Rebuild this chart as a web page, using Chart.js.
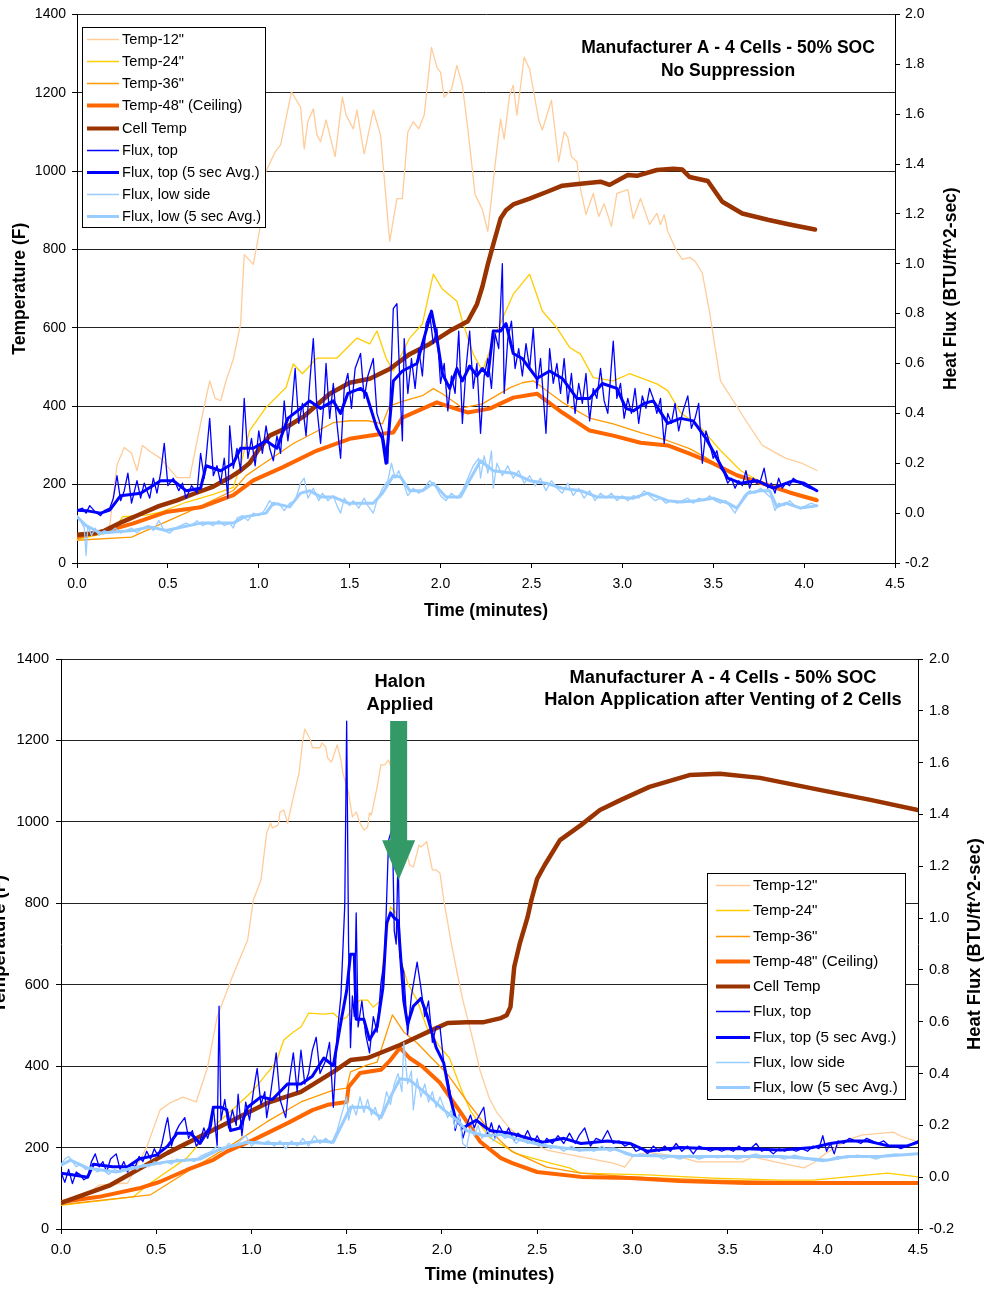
<!DOCTYPE html>
<html><head><meta charset="utf-8">
<script src="https://cdn.jsdelivr.net/npm/chart.js@4.4.1/dist/chart.umd.min.js"></script>
<style>
html,body{margin:0;padding:0;background:#fff;}
#wrap{position:relative;width:984px;height:1289px;overflow:hidden;background:#fff;}
canvas{position:absolute;left:0;}
#c1{top:0;} #c2{top:640px;}
</style></head><body>
<div id="wrap"><canvas id="c1" width="984" height="640"></canvas><canvas id="c2" width="984" height="649"></canvas></div>
<script>
// ---------- series names ----------
const seriesNames = ['Temp-12"','Temp-24"','Temp-36"','Temp-48" (Ceiling)','Cell Temp','Flux, top','Flux, top (5 sec Avg.)','Flux, low side','Flux, low (5 sec Avg.)'];
const xTicks = [0,0.5,1,1.5,2,2.5,3,3.5,4,4.5];
const titleTop = ['Manufacturer A - 4 Cells - 50% SOC','No Suppression'];
const titleBottom = ['Manufacturer A - 4 Cells - 50% SOC','Halon Application after Venting of 2 Cells'];
const halonLabel = ['Halon','Applied'];
const halonArrow = {t:1.773, top:1248, head:955, tip:857};

// ---------- TOP chart (No Suppression): [minutes, value] ----------
const nsTemp12 = [[0,75],[0.1,78],[0.15,85],[0.18,95],[0.22,250],[0.26,295],[0.30,280],[0.33,236],[0.36,300],[0.40,285],[0.46,267],[0.55,218],[0.62,218],[0.68,356],[0.73,465],[0.76,420],[0.79,414],[0.82,465],[0.86,520],[0.90,610],[0.92,787],[0.97,762],[1.01,863],[1.03,990],[1.09,1049],[1.12,1067],[1.18,1202],[1.23,1163],[1.25,1057],[1.27,1126],[1.30,1159],[1.32,1092],[1.34,1075],[1.37,1131],[1.42,1037],[1.46,1189],[1.48,1143],[1.52,1108],[1.54,1156],[1.57,1070],[1.58,1044],[1.63,1156],[1.67,1092],[1.72,821],[1.76,930],[1.79,930],[1.82,1100],[1.85,1126],[1.88,1108],[1.91,1143],[1.95,1316],[1.98,1265],[2.00,1252],[2.02,1189],[2.06,1209],[2.09,1270],[2.12,1219],[2.15,1108],[2.19,940],[2.23,902],[2.26,846],[2.30,1016],[2.33,1133],[2.35,1082],[2.38,1194],[2.40,1219],[2.42,1143],[2.46,1291],[2.49,1260],[2.54,1131],[2.56,1105],[2.61,1181],[2.65,1024],[2.68,1100],[2.70,1087],[2.72,1037],[2.75,1024],[2.77,955],[2.80,889],[2.84,943],[2.87,884],[2.90,917],[2.94,859],[2.97,943],[3.03,953],[3.06,879],[3.10,930],[3.15,864],[3.19,892],[3.21,864],[3.23,889],[3.25,846],[3.30,795],[3.33,775],[3.37,780],[3.40,770],[3.44,740],[3.48,640],[3.51,550],[3.54,465],[3.61,414],[3.68,363],[3.77,300],[3.90,267],[3.99,254],[4.07,236]];
const nsTemp24 = [[0,60],[0.2,80],[0.25,118],[0.38,122],[0.46,130],[0.6,155],[0.75,175],[0.86,193],[0.9,250],[0.93,305],[0.95,338],[1.04,397],[1.06,406],[1.15,448],[1.19,508],[1.24,483],[1.32,523],[1.43,523],[1.54,574],[1.61,559],[1.65,592],[1.70,523],[1.74,490],[1.83,574],[1.90,610],[1.96,737],[2.01,699],[2.09,668],[2.12,617],[2.18,533],[2.23,490],[2.31,592],[2.40,686],[2.49,737],[2.56,643],[2.64,600],[2.71,550],[2.77,533],[2.84,473],[2.95,465],[3.04,483],[3.19,457],[3.25,440],[3.32,384],[3.43,346],[3.54,287],[3.65,236],[3.75,210],[3.90,185],[4.07,165]];
const nsTemp36 = [[0,58],[0.3,66],[0.6,128],[0.86,185],[0.93,223],[1.0,245],[1.19,305],[1.41,358],[1.5,363],[1.6,363],[1.68,355],[1.72,401],[1.8,414],[1.9,427],[1.96,445],[2.01,432],[2.12,396],[2.23,406],[2.38,447],[2.45,460],[2.51,465],[2.67,410],[2.82,370],[2.95,355],[3.1,333],[3.25,312],[3.37,292],[3.46,269],[3.54,244],[3.65,218],[3.8,196],[3.95,175],[4.07,162]];
const nsTemp48 = [[0,66],[0.18,84],[0.31,101],[0.49,130],[0.68,142],[0.86,173],[0.97,211],[1.13,244],[1.32,287],[1.5,317],[1.68,330],[1.74,333],[1.79,371],[1.98,410],[2.01,405],[2.15,384],[2.27,394],[2.4,422],[2.53,432],[2.67,384],[2.82,338],[2.95,325],[3.1,307],[3.25,300],[3.37,279],[3.5,254],[3.63,224],[3.77,203],[3.92,180],[4.07,160]];
const nsCell = [[0,72],[0.1,76],[0.15,82],[0.25,105],[0.35,125],[0.45,145],[0.55,160],[0.65,178],[0.75,195],[0.84,218],[0.9,236],[0.95,255],[1.0,290],[1.06,325],[1.13,340],[1.25,375],[1.39,432],[1.5,460],[1.61,470],[1.72,495],[1.83,533],[1.94,559],[2.05,592],[2.15,617],[2.2,660],[2.23,705],[2.26,762],[2.29,813],[2.31,846],[2.33,879],[2.36,900],[2.4,915],[2.49,930],[2.59,948],[2.67,963],[2.77,968],[2.88,973],[2.93,965],[3.03,990],[3.08,988],[3.19,1003],[3.28,1006],[3.33,1004],[3.37,985],[3.47,975],[3.55,922],[3.66,892],[3.8,876],[3.92,864],[4.06,851]];
const nsFluxTop = [[0.00,0.012],[0.03,0.02],[0.05,0.0],[0.07,0.03],[0.10,0.005],[0.13,-0.01],[0.15,0.01],[0.18,0.02],[0.20,0.06],[0.22,0.15],[0.24,0.05],[0.26,0.09],[0.28,0.16],[0.30,0.04],[0.33,0.13],[0.35,0.06],[0.37,0.12],[0.40,0.06],[0.42,0.14],[0.44,0.08],[0.46,0.16],[0.48,0.28],[0.50,0.11],[0.53,0.14],[0.56,0.09],[0.58,0.12],[0.60,0.06],[0.63,0.11],[0.66,0.08],[0.68,0.24],[0.70,0.14],[0.73,0.38],[0.75,0.15],[0.77,0.19],[0.79,0.12],[0.81,0.22],[0.83,0.06],[0.84,0.35],[0.86,0.18],[0.88,0.26],[0.90,0.17],[0.92,0.46],[0.94,0.22],[0.96,0.30],[0.98,0.19],[1.00,0.33],[1.02,0.24],[1.04,0.35],[1.06,0.26],[1.08,0.21],[1.10,0.31],[1.12,0.24],[1.14,0.45],[1.16,0.29],[1.18,0.40],[1.20,0.58],[1.22,0.36],[1.24,0.44],[1.26,0.31],[1.28,0.52],[1.30,0.70],[1.32,0.42],[1.34,0.28],[1.36,0.46],[1.37,0.60],[1.39,0.38],[1.41,0.52],[1.43,0.36],[1.45,0.22],[1.47,0.50],[1.49,0.56],[1.51,0.42],[1.53,0.58],[1.56,0.64],[1.58,0.46],[1.60,0.55],[1.63,0.62],[1.65,0.40],[1.68,0.33],[1.71,0.20],[1.74,0.82],[1.76,0.84],[1.78,0.45],[1.79,0.29],[1.80,0.70],[1.82,0.48],[1.84,0.62],[1.86,0.50],[1.88,0.66],[1.90,0.55],[1.92,0.76],[1.94,0.80],[1.96,0.68],[1.98,0.74],[2.00,0.52],[2.02,0.60],[2.04,0.41],[2.06,0.55],[2.08,0.48],[2.10,0.73],[2.12,0.36],[2.14,0.58],[2.16,0.73],[2.18,0.50],[2.20,0.60],[2.22,0.32],[2.24,0.55],[2.26,0.62],[2.28,0.50],[2.30,0.72],[2.32,0.66],[2.34,1.00],[2.35,0.48],[2.37,0.70],[2.39,0.77],[2.41,0.58],[2.43,0.66],[2.45,0.55],[2.47,0.68],[2.49,0.58],[2.51,0.74],[2.53,0.50],[2.55,0.62],[2.58,0.32],[2.60,0.66],[2.62,0.52],[2.64,0.60],[2.66,0.48],[2.68,0.62],[2.70,0.44],[2.72,0.56],[2.74,0.40],[2.76,0.52],[2.78,0.44],[2.80,0.56],[2.82,0.37],[2.84,0.50],[2.86,0.46],[2.88,0.58],[2.90,0.45],[2.92,0.40],[2.95,0.69],[2.97,0.46],[2.99,0.52],[3.01,0.38],[3.03,0.46],[3.05,0.40],[3.07,0.50],[3.09,0.36],[3.11,0.47],[3.13,0.42],[3.15,0.50],[3.17,0.46],[3.19,0.40],[3.21,0.46],[3.23,0.28],[3.25,0.40],[3.27,0.36],[3.29,0.44],[3.31,0.33],[3.33,0.40],[3.36,0.47],[3.38,0.34],[3.40,0.38],[3.42,0.44],[3.44,0.20],[3.46,0.33],[3.48,0.28],[3.50,0.22],[3.52,0.25],[3.54,0.18],[3.56,0.16],[3.58,0.12],[3.60,0.14],[3.62,0.10],[3.64,0.13],[3.66,0.11],[3.68,0.17],[3.70,0.10],[3.72,0.14],[3.74,0.12],[3.76,0.13],[3.78,0.18],[3.80,0.10],[3.82,0.12],[3.84,0.08],[3.86,0.14],[3.88,0.10],[3.90,0.12],[3.92,0.11],[3.94,0.14],[3.96,0.13],[3.98,0.12],[4.00,0.11],[4.03,0.10],[4.07,0.09]];
const nsFluxTopAvg = [[0,0.012],[0.05,0.01],[0.13,0.0],[0.18,0.012],[0.24,0.07],[0.35,0.08],[0.46,0.13],[0.53,0.13],[0.6,0.09],[0.68,0.10],[0.71,0.19],[0.79,0.17],[0.86,0.20],[0.9,0.26],[0.97,0.26],[1.04,0.29],[1.1,0.26],[1.16,0.38],[1.23,0.42],[1.28,0.45],[1.34,0.42],[1.41,0.45],[1.45,0.40],[1.49,0.48],[1.56,0.50],[1.59,0.48],[1.65,0.34],[1.68,0.30],[1.70,0.20],[1.74,0.53],[1.79,0.57],[1.87,0.60],[1.92,0.73],[1.95,0.81],[1.98,0.70],[2.01,0.56],[2.05,0.50],[2.09,0.58],[2.12,0.53],[2.16,0.59],[2.2,0.55],[2.23,0.58],[2.26,0.55],[2.29,0.73],[2.33,0.73],[2.36,0.76],[2.4,0.64],[2.45,0.62],[2.49,0.58],[2.53,0.54],[2.6,0.57],[2.67,0.54],[2.75,0.46],[2.82,0.46],[2.89,0.52],[2.97,0.50],[3.02,0.42],[3.06,0.41],[3.12,0.44],[3.17,0.45],[3.25,0.36],[3.32,0.38],[3.39,0.37],[3.46,0.30],[3.52,0.22],[3.58,0.14],[3.65,0.12],[3.74,0.13],[3.83,0.10],[3.94,0.13],[4.0,0.12],[4.07,0.09]];
const nsFluxLow = [[0.00,-0.01],[0.02,-0.03],[0.04,-0.06],[0.05,-0.17],[0.06,-0.05],[0.08,-0.09],[0.10,-0.06],[0.12,-0.09],[0.15,-0.07],[0.18,-0.08],[0.21,-0.06],[0.24,-0.08],[0.27,-0.07],[0.30,-0.06],[0.33,-0.08],[0.36,-0.06],[0.39,-0.05],[0.42,-0.07],[0.45,-0.03],[0.48,-0.07],[0.51,-0.08],[0.54,-0.06],[0.57,-0.05],[0.60,-0.04],[0.63,-0.05],[0.66,-0.03],[0.69,-0.05],[0.72,-0.04],[0.75,-0.05],[0.78,-0.03],[0.81,-0.05],[0.84,-0.04],[0.86,-0.06],[0.88,-0.02],[0.91,-0.01],[0.94,-0.03],[0.97,0.0],[1.00,-0.01],[1.03,0.01],[1.06,0.05],[1.08,0.03],[1.11,0.04],[1.14,0.01],[1.17,0.04],[1.20,0.05],[1.23,0.12],[1.25,0.14],[1.27,0.06],[1.30,0.10],[1.33,0.05],[1.35,0.08],[1.38,0.05],[1.41,0.07],[1.43,0.03],[1.45,0.0],[1.47,0.06],[1.50,0.03],[1.52,0.05],[1.55,0.02],[1.58,0.06],[1.60,0.03],[1.63,0.0],[1.65,0.05],[1.68,0.10],[1.71,0.13],[1.73,0.20],[1.75,0.14],[1.77,0.17],[1.80,0.11],[1.82,0.07],[1.85,0.10],[1.88,0.08],[1.91,0.10],[1.94,0.13],[1.97,0.11],[2.00,0.07],[2.03,0.05],[2.06,0.08],[2.09,0.06],[2.12,0.09],[2.15,0.14],[2.18,0.19],[2.21,0.22],[2.22,0.14],[2.24,0.23],[2.26,0.16],[2.28,0.25],[2.29,0.10],[2.31,0.20],[2.34,0.15],[2.37,0.19],[2.40,0.14],[2.43,0.17],[2.46,0.12],[2.49,0.15],[2.52,0.11],[2.55,0.14],[2.58,0.09],[2.61,0.13],[2.64,0.10],[2.67,0.08],[2.70,0.12],[2.73,0.07],[2.76,0.10],[2.79,0.06],[2.82,0.09],[2.85,0.05],[2.88,0.08],[2.91,0.06],[2.94,0.08],[2.97,0.05],[3.00,0.07],[3.03,0.05],[3.06,0.07],[3.09,0.06],[3.12,0.09],[3.15,0.07],[3.18,0.05],[3.21,0.06],[3.24,0.04],[3.27,0.05],[3.30,0.04],[3.33,0.05],[3.36,0.06],[3.39,0.04],[3.42,0.06],[3.45,0.05],[3.48,0.07],[3.51,0.05],[3.54,0.04],[3.57,0.05],[3.60,0.02],[3.62,0.0],[3.64,0.03],[3.67,0.07],[3.70,0.09],[3.73,0.08],[3.76,0.10],[3.79,0.08],[3.82,0.06],[3.84,0.01],[3.86,0.04],[3.89,0.03],[3.92,0.05],[3.95,0.03],[3.98,0.02],[4.01,0.03],[4.04,0.04],[4.07,0.03]];
const nsFluxLowAvg = [[0,-0.015],[0.05,-0.05],[0.13,-0.08],[0.31,-0.07],[0.4,-0.055],[0.49,-0.07],[0.68,-0.04],[0.86,-0.04],[0.92,-0.015],[1.04,0.0],[1.08,0.04],[1.17,0.025],[1.23,0.08],[1.28,0.09],[1.34,0.065],[1.41,0.065],[1.49,0.04],[1.56,0.04],[1.63,0.04],[1.68,0.08],[1.74,0.15],[1.78,0.145],[1.83,0.09],[1.9,0.09],[1.96,0.12],[2.03,0.065],[2.11,0.065],[2.15,0.12],[2.22,0.21],[2.29,0.17],[2.4,0.16],[2.49,0.13],[2.58,0.12],[2.67,0.10],[2.77,0.09],[2.86,0.065],[2.95,0.065],[3.06,0.06],[3.14,0.08],[3.25,0.05],[3.32,0.045],[3.41,0.05],[3.5,0.06],[3.58,0.04],[3.63,0.02],[3.69,0.08],[3.76,0.09],[3.81,0.09],[3.85,0.025],[3.9,0.04],[3.98,0.02],[4.07,0.03]];

// ---------- BOTTOM chart (Halon) ----------
const hlTemp12 = [[0,62],[0.15,90],[0.2,108],[0.35,113],[0.45,201],[0.52,292],[0.57,309],[0.64,324],[0.71,312],[0.77,398],[0.82,521],[0.90,620],[0.98,710],[1.01,808],[1.05,857],[1.08,973],[1.10,997],[1.11,985],[1.14,992],[1.15,1024],[1.17,1029],[1.19,997],[1.22,1061],[1.25,1120],[1.27,1201],[1.28,1228],[1.31,1201],[1.32,1182],[1.36,1182],[1.37,1194],[1.39,1184],[1.40,1157],[1.42,1147],[1.43,1160],[1.45,1189],[1.47,1152],[1.48,1120],[1.51,1071],[1.53,1012],[1.55,1024],[1.57,997],[1.59,980],[1.61,987],[1.62,1022],[1.63,1017],[1.66,1086],[1.68,1140],[1.70,1140],[1.72,1152],[1.76,1100],[1.80,960],[1.83,894],[1.85,889],[1.88,943],[1.89,938],[1.92,951],[1.95,882],[1.97,882],[1.99,874],[2.01,808],[2.05,700],[2.08,630],[2.11,562],[2.16,470],[2.20,390],[2.25,320],[2.29,285],[2.35,250],[2.41,226],[2.55,194],[2.73,177],[2.90,162],[2.96,152],[3.00,177],[3.08,189],[3.25,177],[3.34,165],[3.42,165],[3.58,165],[3.63,177],[3.78,162],[3.90,150],[3.95,162],[4.02,187],[4.13,219],[4.21,231],[4.37,238],[4.42,226],[4.50,214]];
const hlTemp24 = [[0,58],[0.38,79],[0.47,113],[0.66,174],[0.82,260],[0.91,297],[1.01,341],[1.13,410],[1.17,464],[1.22,484],[1.26,496],[1.30,530],[1.38,528],[1.43,530],[1.47,513],[1.50,520],[1.54,550],[1.57,562],[1.61,562],[1.64,545],[1.68,562],[1.69,653],[1.73,791],[1.76,776],[1.78,668],[1.82,604],[1.87,562],[1.92,496],[1.99,447],[2.04,420],[2.10,345],[2.15,290],[2.25,225],[2.39,185],[2.57,162],[2.67,150],[2.73,137],[3.08,133],[3.42,125],[3.78,120],[3.95,120],[4.13,128],[4.34,137],[4.50,128]];
const hlTemp36 = [[0,60],[0.47,84],[0.66,140],[0.91,211],[1.08,263],[1.26,312],[1.43,341],[1.50,346],[1.52,386],[1.61,403],[1.66,410],[1.74,526],[1.80,484],[1.87,457],[1.94,423],[2.03,380],[2.13,315],[2.22,260],[2.31,215],[2.37,190],[2.55,152],[2.73,137],[2.99,128],[3.42,120],[3.95,115],[4.50,115]];
const hlTemp48 = [[0,66],[0.2,79],[0.41,100],[0.52,116],[0.66,145],[0.80,170],[0.87,190],[1.01,219],[1.19,260],[1.32,292],[1.40,305],[1.50,312],[1.51,349],[1.57,383],[1.68,391],[1.73,415],[1.78,445],[1.83,420],[1.90,398],[1.99,359],[2.10,285],[2.20,215],[2.31,174],[2.37,162],[2.50,140],[2.73,128],[2.99,125],[3.25,118],[3.60,113],[3.95,113],[4.30,113],[4.50,113]];
const hlCell = [[0,64],[0.26,108],[0.56,187],[0.82,248],[1.08,309],[1.26,337],[1.43,386],[1.52,415],[1.61,420],[1.78,452],[1.95,489],[2.03,506],[2.13,508],[2.22,508],[2.31,518],[2.34,525],[2.36,545],[2.38,644],[2.41,703],[2.45,766],[2.47,808],[2.50,860],[2.54,894],[2.62,955],[2.73,992],[2.83,1029],[2.94,1054],[3.09,1086],[3.30,1115],[3.46,1118],[3.67,1108],[3.99,1078],[4.25,1054],[4.50,1029]];
const hlFluxTop = [[0.00,0.02],[0.02,-0.02],[0.04,0.03],[0.06,-0.025],[0.08,0.02],[0.10,0.01],[0.12,-0.01],[0.14,0.0],[0.16,0.06],[0.18,0.09],[0.20,0.04],[0.22,0.06],[0.24,0.02],[0.26,0.07],[0.29,0.09],[0.31,0.03],[0.33,0.06],[0.35,0.02],[0.37,0.05],[0.39,0.04],[0.41,0.08],[0.43,0.06],[0.45,0.10],[0.47,0.07],[0.49,0.11],[0.51,0.08],[0.53,0.13],[0.55,0.20],[0.56,0.23],[0.58,0.12],[0.60,0.17],[0.62,0.20],[0.65,0.23],[0.67,0.15],[0.69,0.18],[0.71,0.12],[0.73,0.14],[0.75,0.19],[0.77,0.15],[0.79,0.20],[0.80,0.27],[0.82,0.12],[0.83,0.66],[0.84,0.22],[0.86,0.30],[0.88,0.19],[0.90,0.26],[0.92,0.20],[0.93,0.32],[0.95,0.16],[0.97,0.29],[0.99,0.22],[1.01,0.33],[1.03,0.42],[1.05,0.28],[1.07,0.33],[1.08,0.23],[1.10,0.32],[1.13,0.48],[1.15,0.30],[1.18,0.23],[1.20,0.38],[1.22,0.48],[1.24,0.33],[1.26,0.49],[1.28,0.36],[1.30,0.40],[1.32,0.49],[1.34,0.54],[1.36,0.40],[1.39,0.45],[1.41,0.52],[1.43,0.27],[1.45,0.55],[1.47,0.70],[1.49,1.05],[1.50,1.76],[1.51,0.90],[1.52,0.50],[1.53,0.70],[1.54,0.62],[1.55,1.02],[1.56,0.58],[1.58,0.68],[1.60,0.55],[1.62,0.48],[1.64,0.62],[1.66,0.56],[1.68,0.75],[1.70,0.85],[1.72,1.30],[1.74,1.35],[1.75,0.95],[1.76,0.90],[1.77,1.25],[1.78,0.85],[1.80,0.79],[1.82,0.55],[1.84,0.70],[1.87,0.83],[1.89,0.73],[1.91,0.62],[1.93,0.68],[1.95,0.52],[1.97,0.58],[1.99,0.58],[2.01,0.44],[2.03,0.38],[2.05,0.30],[2.07,0.18],[2.09,0.24],[2.11,0.15],[2.13,0.20],[2.15,0.24],[2.17,0.19],[2.19,0.23],[2.22,0.27],[2.24,0.16],[2.26,0.21],[2.28,0.15],[2.30,0.20],[2.33,0.16],[2.35,0.19],[2.38,0.14],[2.40,0.17],[2.43,0.15],[2.45,0.18],[2.48,0.13],[2.50,0.16],[2.53,0.12],[2.55,0.15],[2.58,0.13],[2.61,0.16],[2.64,0.13],[2.67,0.17],[2.70,0.13],[2.72,0.16],[2.75,0.19],[2.78,0.12],[2.81,0.15],[2.84,0.14],[2.87,0.18],[2.90,0.13],[2.93,0.14],[2.96,0.12],[2.99,0.13],[3.02,0.10],[3.05,0.11],[3.08,0.09],[3.11,0.12],[3.14,0.10],[3.17,0.12],[3.20,0.10],[3.23,0.13],[3.26,0.10],[3.29,0.12],[3.32,0.09],[3.35,0.12],[3.38,0.11],[3.41,0.10],[3.44,0.11],[3.47,0.10],[3.50,0.11],[3.53,0.10],[3.56,0.12],[3.59,0.10],[3.62,0.11],[3.65,0.13],[3.68,0.10],[3.71,0.11],[3.74,0.09],[3.77,0.11],[3.80,0.10],[3.83,0.11],[3.86,0.10],[3.89,0.11],[3.92,0.10],[3.95,0.12],[3.98,0.11],[4.00,0.16],[4.02,0.10],[4.04,0.13],[4.06,0.09],[4.08,0.14],[4.11,0.13],[4.14,0.15],[4.17,0.14],[4.20,0.13],[4.23,0.15],[4.26,0.14],[4.29,0.13],[4.32,0.14],[4.35,0.12],[4.38,0.12],[4.41,0.11],[4.44,0.12],[4.47,0.13],[4.50,0.14]];
const hlFluxTopAvg = [[0,0.015],[0.05,0.01],[0.14,0.0],[0.17,0.05],[0.27,0.04],[0.35,0.04],[0.41,0.07],[0.50,0.085],[0.56,0.12],[0.61,0.17],[0.68,0.17],[0.73,0.13],[0.78,0.19],[0.80,0.27],[0.84,0.27],[0.87,0.26],[0.89,0.18],[0.94,0.19],[0.98,0.27],[1.05,0.31],[1.11,0.30],[1.19,0.36],[1.26,0.36],[1.32,0.39],[1.38,0.46],[1.43,0.43],[1.47,0.60],[1.50,0.72],[1.52,0.86],[1.54,0.86],[1.55,0.61],[1.59,0.61],[1.62,0.53],[1.66,0.58],[1.69,0.73],[1.71,0.98],[1.73,1.02],[1.75,1.00],[1.77,0.99],[1.80,0.68],[1.82,0.59],[1.85,0.66],[1.89,0.69],[1.92,0.63],[1.97,0.50],[2.01,0.44],[2.04,0.32],[2.07,0.23],[2.11,0.19],[2.18,0.22],[2.25,0.18],[2.36,0.17],[2.43,0.155],[2.53,0.135],[2.64,0.15],[2.73,0.13],[2.87,0.14],[2.99,0.13],[3.08,0.10],[3.25,0.115],[3.42,0.11],[3.60,0.11],[3.78,0.105],[3.95,0.115],[4.04,0.13],[4.13,0.14],[4.23,0.14],[4.35,0.12],[4.44,0.12],[4.50,0.135]];
const hlFluxLow = [[0.00,0.05],[0.02,0.07],[0.04,0.08],[0.06,0.06],[0.08,0.04],[0.10,0.05],[0.13,0.03],[0.16,0.04],[0.19,0.02],[0.22,0.03],[0.25,0.01],[0.28,0.03],[0.31,0.02],[0.34,0.03],[0.37,0.04],[0.40,0.03],[0.43,0.05],[0.46,0.04],[0.49,0.06],[0.52,0.05],[0.55,0.06],[0.58,0.05],[0.61,0.07],[0.64,0.06],[0.67,0.07],[0.70,0.06],[0.73,0.08],[0.76,0.09],[0.79,0.10],[0.82,0.12],[0.85,0.10],[0.88,0.13],[0.91,0.12],[0.94,0.14],[0.97,0.16],[1.00,0.12],[1.03,0.14],[1.06,0.13],[1.09,0.14],[1.12,0.12],[1.15,0.14],[1.18,0.11],[1.21,0.14],[1.24,0.12],[1.27,0.15],[1.30,0.12],[1.33,0.16],[1.36,0.13],[1.39,0.15],[1.42,0.13],[1.45,0.18],[1.48,0.26],[1.50,0.31],[1.51,0.22],[1.53,0.28],[1.55,0.24],[1.57,0.31],[1.59,0.25],[1.61,0.30],[1.63,0.24],[1.65,0.27],[1.67,0.22],[1.69,0.26],[1.71,0.33],[1.73,0.28],[1.75,0.36],[1.77,0.40],[1.79,0.33],[1.80,0.52],[1.82,0.36],[1.84,0.41],[1.85,0.26],[1.87,0.38],[1.89,0.31],[1.91,0.36],[1.93,0.29],[1.95,0.33],[1.97,0.27],[1.99,0.31],[2.01,0.27],[2.03,0.23],[2.05,0.26],[2.07,0.19],[2.09,0.24],[2.11,0.13],[2.13,0.115],[2.15,0.19],[2.17,0.16],[2.19,0.20],[2.21,0.15],[2.24,0.18],[2.27,0.14],[2.30,0.17],[2.33,0.15],[2.36,0.16],[2.39,0.13],[2.42,0.15],[2.45,0.13],[2.48,0.14],[2.51,0.12],[2.54,0.13],[2.57,0.11],[2.60,0.12],[2.64,0.10],[2.68,0.12],[2.72,0.10],[2.76,0.11],[2.80,0.10],[2.84,0.12],[2.88,0.10],[2.92,0.11],[2.96,0.09],[3.00,0.08],[3.04,0.09],[3.08,0.08],[3.12,0.09],[3.16,0.07],[3.20,0.08],[3.25,0.07],[3.30,0.085],[3.35,0.07],[3.40,0.08],[3.45,0.075],[3.50,0.085],[3.55,0.07],[3.60,0.08],[3.65,0.09],[3.70,0.075],[3.75,0.08],[3.80,0.07],[3.85,0.085],[3.90,0.075],[3.95,0.065],[4.00,0.06],[4.04,0.07],[4.08,0.08],[4.13,0.075],[4.18,0.085],[4.23,0.08],[4.28,0.07],[4.33,0.085],[4.38,0.09],[4.43,0.085],[4.50,0.09]];
const hlFluxLowAvg = [[0,0.046],[0.05,0.066],[0.14,0.035],[0.29,0.02],[0.41,0.04],[0.56,0.06],[0.73,0.07],[0.84,0.11],[0.98,0.135],[1.08,0.13],[1.26,0.13],[1.36,0.14],[1.43,0.135],[1.48,0.21],[1.52,0.27],[1.61,0.27],[1.68,0.23],[1.73,0.31],[1.78,0.38],[1.83,0.375],[1.89,0.34],[1.95,0.30],[2.01,0.26],[2.08,0.22],[2.13,0.18],[2.22,0.16],[2.31,0.165],[2.43,0.14],[2.55,0.12],[2.73,0.105],[2.90,0.11],[3.0,0.085],[3.25,0.08],[3.6,0.08],[3.78,0.08],[3.95,0.07],[4.02,0.065],[4.13,0.08],[4.30,0.08],[4.50,0.09]];

// ---------- styling ----------
const FONT = "'Liberation Sans', Arial, Helvetica, sans-serif";
const COLORS = ['#FFCC99','#FFCC00','#FF9900','#FF6600','#993300','#0000FF','#0000FF','#99CCFF','#99CCFF'];
const WIDTHS = [1.3,1.3,1.3,4,4.5,1.3,3,1.3,3];
const LEG_W = [1.5,1.5,1.5,4,4,1.5,3,1.5,3];
const RIGHT_TITLE = 'Heat Flux (BTU/ft^2-sec)';
Chart.defaults.font.family = FONT;
Chart.defaults.color = '#000';

function overlay(L) {
  return {
    id: 'overlay' + L.id,
    afterDraw(chart) {
      const ctx = chart.ctx, ca = chart.chartArea;
      ctx.save();
      if (L.arrow) {
        const xs = chart.scales.x, ys = chart.scales.yT;
        const cx = xs.getPixelForValue(L.arrow.t);
        const yTop = ys.getPixelForValue(L.arrow.top), yHead = ys.getPixelForValue(L.arrow.head), yTip = ys.getPixelForValue(L.arrow.tip);
        ctx.fillStyle = '#339966';
        ctx.beginPath();
        ctx.moveTo(cx - 8.5, yTop); ctx.lineTo(cx + 8.5, yTop); ctx.lineTo(cx + 8.5, yHead);
        ctx.lineTo(cx + 16.5, yHead); ctx.lineTo(cx, yTip); ctx.lineTo(cx - 16.5, yHead);
        ctx.lineTo(cx - 8.5, yHead); ctx.closePath(); ctx.fill();
      }
      // legend box
      const G = L.legend;
      ctx.fillStyle = '#fff'; ctx.fillRect(G.x, G.y, G.w, G.h);
      ctx.strokeStyle = '#000'; ctx.lineWidth = 1; ctx.strokeRect(G.x + 0.5, G.y + 0.5, G.w, G.h);
      ctx.font = L.legFs + 'px ' + FONT; ctx.textBaseline = 'middle'; ctx.textAlign = 'left';
      seriesNames.forEach((n, i) => {
        const y = G.row0 + i * G.rowH;
        ctx.strokeStyle = COLORS[i]; ctx.lineWidth = LEG_W[i]; ctx.lineCap = 'butt';
        ctx.beginPath(); ctx.moveTo(G.s0, Math.round(y) + 0.5); ctx.lineTo(G.s1, Math.round(y) + 0.5); ctx.stroke();
        ctx.fillStyle = '#000'; ctx.fillText(n, G.tx, y + 1);
      });
      // annotations
      ctx.fillStyle = '#000'; ctx.font = 'bold ' + L.boldFs + 'px ' + FONT; ctx.textAlign = 'center'; ctx.textBaseline = 'middle';
      L.texts.forEach(t => ctx.fillText(t.s, t.x, t.y));
      // right axis title (reads bottom to top)
      ctx.translate(L.rTitleX, (ca.top + ca.bottom) / 2); ctx.rotate(-Math.PI / 2);
      ctx.fillText(RIGHT_TITLE, 0, 0);
      ctx.restore();
    }
  };
}

function buildChart(id, series, L) {
  const datasets = series.map((pts, i) => ({
    label: seriesNames[i],
    data: pts.map(p => ({x: p[0], y: p[1]})),
    borderColor: COLORS[i], backgroundColor: COLORS[i],
    borderWidth: WIDTHS[i],
    yAxisID: i < 5 ? 'yT' : 'yF',
    pointRadius: 0, pointHoverRadius: 0, tension: 0, fill: false,
    borderJoinStyle: 'round', borderCapStyle: 'round',
    order: 9 - i
  }));
  return new Chart(document.getElementById(id), {
    type: 'line',
    data: { datasets },
    options: {
      responsive: false, animation: false, devicePixelRatio: 1, events: [],
      layout: { padding: { top: L.top, left: 0, right: 0, bottom: 0 } },
      plugins: { legend: { display: false }, tooltip: { enabled: false } },
      scales: {
        x: {
          type: 'linear', position: 'bottom', min: 0, max: 4.5,
          afterBuildTicks: s => { s.ticks = xTicks.map(v => ({value: v})); },
          ticks: { autoSkip: false, maxRotation: 0, padding: L.xTickPad, font: { size: L.tickFs }, color: '#000', callback: v => Number(v).toFixed(1) },
          grid: { drawOnChartArea: false, drawTicks: true, tickLength: 5, tickColor: '#000', tickWidth: 1 },
          border: { display: true, color: '#000', width: 1 },
          title: { display: true, text: 'Time (minutes)', font: { size: L.boldFs, weight: 'bold' }, color: '#000', padding: { top: 0, bottom: L.xTitlePad } },
          afterFit: s => { s.height = L.xH; }
        },
        yT: {
          type: 'linear', position: 'left', min: 0, max: 1400,
          ticks: { stepSize: 200, padding: L.lTickPad, font: { size: L.tickFs }, color: '#000', callback: v => String(Math.round(v)) },
          grid: { color: '#222', lineWidth: 1, drawTicks: true, tickLength: 5, tickColor: '#000' },
          border: { display: true, color: '#000', width: 1 },
          title: { display: true, text: 'Temperature (F)', font: { size: L.boldFs, weight: 'bold' }, color: '#000', padding: { top: L.lTitlePad, bottom: 0 } },
          afterFit: s => { s.width = L.lW; }
        },
        yF: {
          type: 'linear', position: 'right', min: -0.2, max: 2.0,
          ticks: { stepSize: 0.2, padding: L.rTickPad, font: { size: L.tickFs }, color: '#000', callback: v => Number(v).toFixed(1) },
          grid: { drawOnChartArea: false, drawTicks: true, tickLength: 5, tickColor: '#000' },
          border: { display: true, color: '#000', width: 1 },
          afterFit: s => { s.width = L.rW; }
        }
      }
    },
    plugins: [overlay(L)]
  });
}

buildChart('c1',
  [nsTemp12, nsTemp24, nsTemp36, nsTemp48, nsCell, nsFluxTop, nsFluxTopAvg, nsFluxLow, nsFluxLowAvg],
  { id: 1, top: 12, lW: 77, rW: 89, xH: 77, lTitlePad: 9.5, xTitlePad: 18.5, lTickPad: 6, rTickPad: 5, xTickPad: 8,
    tickFs: 14, legFs: 14.6, boldFs: 17.5, rTitleX: 951,
    legend: { x: 82, y: 27, w: 183, h: 200, row0: 39, rowH: 22.15, s0: 87, s1: 119, tx: 122 },
    texts: [ { s: titleTop[0], x: 728, y: 48 }, { s: titleTop[1], x: 728, y: 71 } ] });

buildChart('c2',
  [hlTemp12, hlTemp24, hlTemp36, hlTemp48, hlCell, hlFluxTop, hlFluxTopAvg, hlFluxLow, hlFluxLowAvg],
  { id: 2, top: 19, lW: 61, rW: 66, xH: 60, lTitlePad: -11, xTitlePad: 3.5, lTickPad: 7, rTickPad: 6, xTickPad: 7,
    tickFs: 14.6, legFs: 15.2, boldFs: 18.3, rTitleX: 975, arrow: halonArrow,
    legend: { x: 707, y: 233, w: 198, h: 226, row0: 245, rowH: 25.25, s0: 716, s1: 750, tx: 753 },
    texts: [ { s: titleBottom[0], x: 723, y: 38 }, { s: titleBottom[1], x: 723, y: 60 },
             { s: halonLabel[0], x: 400, y: 42 }, { s: halonLabel[1], x: 400, y: 65 } ] });
</script></body></html>
